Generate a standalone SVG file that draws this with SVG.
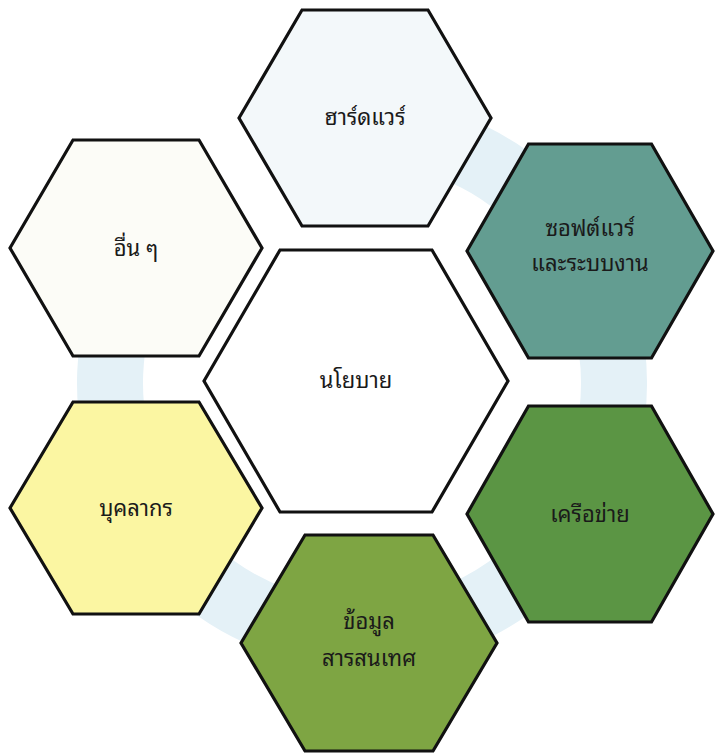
<svg xmlns="http://www.w3.org/2000/svg" width="715" height="753" viewBox="0 0 715 753">
<style>
.hex{stroke:#111;stroke-width:3.2;stroke-linejoin:miter}
.t{font-family:"Noto Sans Thai Looped","Noto Sans Thai","Noto Sans","DejaVu Sans",sans-serif;font-size:22px;fill:#1a1a1a;text-anchor:middle}
</style>
<rect width="715" height="753" fill="#ffffff"/>
<g id="ring">
<path d="M405.8,134.8 A252,252 0 1 1 133.6,276.5" fill="none" stroke="#e4f1f7" stroke-width="66"/>
</g>
<g id="connectors"></g>
<g id="hardware">
<polygon class="hex" fill="#f3f8fa" points="239,118 302,10 428,10 491,118 428,226 302,226"/>
<text class="t" x="365" y="125">ฮาร์ดแวร์</text>
</g>
<g id="others">
<polygon class="hex" fill="#fcfcf7" points="10,248 73,140 199,140 262,248 199,356 73,356"/>
<text class="t" x="136" y="256">อื่น ๆ</text>
</g>
<g id="policy">
<polygon class="hex" fill="#ffffff" points="204,381 280,250 432,250 508,381 432,512 280,512"/>
<text class="t" x="356" y="388">นโยบาย</text>
</g>
<g id="software">
<polygon class="hex" fill="#639d91" points="467,251 528.5,144 651.5,144 713,251 651.5,358 528.5,358"/>
<text class="t" x="590" y="236">ซอฟต์แวร์</text>
<text class="t" x="590" y="271">และระบบงาน</text>
</g>
<g id="personnel">
<polygon class="hex" fill="#fbf6a2" points="10,508 73,402 199,402 262,508 199,614 73,614"/>
<text class="t" x="136" y="516">บุคลากร</text>
</g>
<g id="network">
<polygon class="hex" fill="#5b9544" points="467,514 528.5,406 651.5,406 713,514 651.5,622 528.5,622"/>
<text class="t" x="590" y="522">เครือข่าย</text>
</g>
<g id="information">
<polygon class="hex" fill="#7ea543" points="241,643 305,535 433,535 497,643 433,751 305,751"/>
<text class="t" x="369" y="629">ข้อมูล</text>
<text class="t" x="369" y="666">สารสนเทศ</text>
</g>
</svg>
